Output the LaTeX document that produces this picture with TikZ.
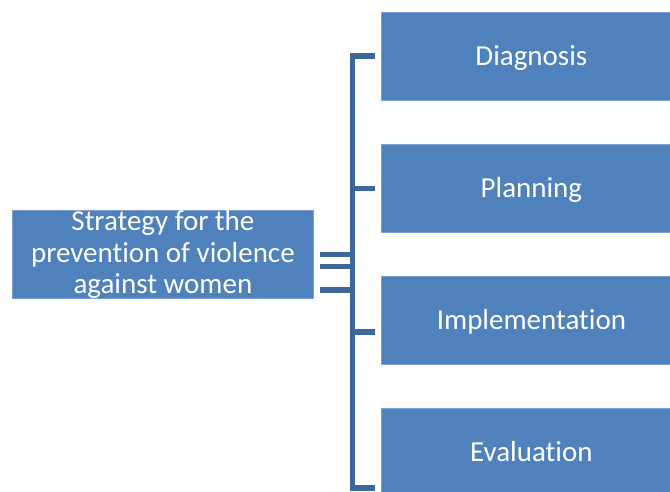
\documentclass[tikz,border=0pt]{standalone}
\usepackage{fontspec}
\setmainfont[Ligatures={CommonOff}]{Carlito}
\definecolor{boxblue}{RGB}{79,129,189}
\definecolor{boxedge}{RGB}{125,160,208}
\definecolor{linkblue}{RGB}{62,102,152}
\begin{document}
\begin{tikzpicture}[x=1pt,y=-1pt,
  stagebox/.style={draw=boxedge, line width=0.8pt, fill=boxblue, text=white,
    minimum width=300pt, minimum height=88pt, inner sep=0pt, anchor=north west,
    font=\fontsize{29}{31}\selectfont, text height=20pt, text depth=1pt},
  rootbox/.style={draw=boxedge, line width=0.8pt, fill=boxblue, text=white,
    minimum width=301pt, minimum height=88pt, inner sep=0pt, anchor=north west,
    font=\fontsize{29}{31.5}\selectfont, align=center},
  link/.style={draw=linkblue, line width=5.3pt, line cap=butt, line join=miter}]
\useasboundingbox (0,0) rectangle (670,492);
\begin{scope}
\clip (0,0) rectangle (670,492);
\node[rootbox] (root) at (12,210) {Strategy for the\\prevention of violence\\against women};
\node[stagebox] (diag) at (381,12) {Diagnosis};
\node[stagebox] (plan) at (381,144) {Planning};
\node[stagebox] (impl) at (381,276) {Implementation};
\node[stagebox] (eval) at (381,408) {Evaluation};
\end{scope}
\coordinate (btop) at (352.7,56);
\coordinate (bbot) at (352.7,488);
\draw[link] ([xshift=-6pt]diag.west |- btop) -- (btop) -- (bbot) -- ([xshift=-6pt]eval.west |- bbot);
\draw[link] (btop |- 0,188.5) -- ([xshift=-6pt]plan.west |- 0,188.5);
\draw[link] (btop |- 0,332) -- ([xshift=-6pt]impl.west |- 0,332);
\draw[link] ([xshift=6pt]root.east |- 0,254.2) -- (btop |- 0,254.2);
\draw[link] ([xshift=6pt]root.east |- 0,266.2) -- (btop |- 0,266.2);
\draw[link] ([xshift=6pt]root.east |- 0,290) -- (btop |- 0,290);
\end{tikzpicture}
\end{document}
